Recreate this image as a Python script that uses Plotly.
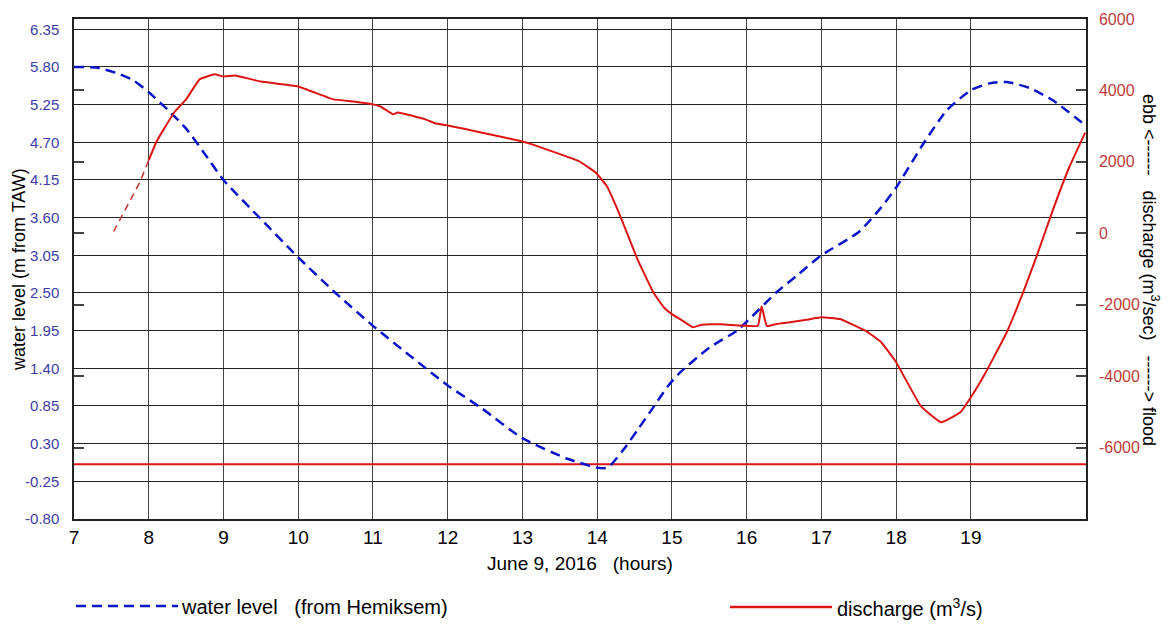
import plotly.graph_objects as go

# ---- data ----
wl_hours = [7.0, 7.3, 7.6, 7.8, 8.0, 8.25, 8.5, 8.75, 9.0, 9.5, 10.0, 10.5, 11.0, 11.5, 12.0,
            12.45, 13.0, 13.6, 14.0, 14.14, 14.35, 14.54, 14.75, 14.94, 15.1, 15.5, 15.87, 16.0,
            16.39, 16.7, 17.0, 17.5, 17.8, 18.0, 18.37, 18.68, 19.0, 19.25, 19.48, 19.79, 20.1, 20.53]
wl_values = [5.80, 5.79, 5.70, 5.60, 5.43, 5.18, 4.90, 4.53, 4.15, 3.58, 3.02, 2.50, 2.02, 1.58, 1.15,
             0.82, 0.38, 0.08, -0.05, -0.05, 0.21, 0.50, 0.83, 1.13, 1.33, 1.70, 1.95, 2.08,
             2.50, 2.78, 3.05, 3.39, 3.75, 4.04, 4.69, 5.17, 5.46, 5.56, 5.58, 5.49, 5.31, 4.95]

q_start_hours = [7.53, 7.88, 8.0]
q_start_values = [50, 1425, 2050]

q_hours = [8.0, 8.1, 8.2, 8.35, 8.5, 8.68, 8.88, 9.0, 9.15, 9.5, 10.0, 10.47, 10.74, 11.0, 11.1,
           11.27, 11.33, 11.7, 11.83, 12.0, 12.43, 13.0, 13.13, 13.32, 13.76, 13.98, 14.13, 14.31,
           14.54, 14.75, 14.89, 15.0, 15.11, 15.28, 15.4, 15.65, 15.9, 16.15, 16.2, 16.27, 16.4,
           16.58, 16.8, 17.0, 17.25, 17.6, 17.8, 18.0, 18.33, 18.6, 18.86, 19.0, 19.2, 19.48, 19.7,
           19.88, 20.1, 20.32, 20.53]
q_values = [2050, 2550, 2910, 3410, 3750, 4310, 4450, 4390, 4420, 4250, 4110, 3750, 3690, 3610, 3550,
            3330, 3385, 3190, 3080, 3020, 2830, 2570, 2490, 2350, 2015, 1700, 1315, 475,
            -730, -1650, -2070, -2265, -2405, -2630, -2560, -2545, -2580, -2590, -2040, -2600, -2540,
            -2490, -2420, -2350, -2400, -2740, -3050, -3610, -4840, -5290, -5010, -4590, -3890, -2770, -1650,
            -640, 670, 1870, 2820]

ref_level = 0.0  # red reference line (water level 0 m TAW)

x_ticks = [7, 8, 9, 10, 11, 12, 13, 14, 15, 16, 17, 18, 19]
y_ticks = [-0.80, -0.25, 0.30, 0.85, 1.40, 1.95, 2.50, 3.05, 3.60, 4.15, 4.70, 5.25, 5.80, 6.35]
y2_ticks = [-6000, -4000, -2000, 0, 2000, 4000, 6000]

x_range = [7.0, 20.54]

FONT = "Liberation Sans, Arial, sans-serif"
BLUE = "#0a14c8"
RED = "#dc1414"

fig = go.Figure()

fig.add_trace(go.Scatter(x=x_range, y=[ref_level, ref_level], mode="lines",
                         line=dict(color=RED, width=2), showlegend=False, hoverinfo="skip"))
fig.add_trace(go.Scatter(x=wl_hours, y=wl_values, mode="lines", name="water level",
                         line=dict(color=BLUE, width=2.5, dash="10px,6px", shape="spline", smoothing=0.6),
                         showlegend=False))
fig.add_trace(go.Scatter(x=q_start_hours, y=q_start_values, mode="lines", yaxis="y2",
                         line=dict(color="#c83232", width=1.5, dash="7px,5px"), showlegend=False))
fig.add_trace(go.Scatter(x=q_hours, y=q_values, mode="lines", name="discharge", yaxis="y2",
                         line=dict(color=RED, width=2, shape="spline", smoothing=0.3), showlegend=False))

L, R, T, B = 74, 84, 19, 105
W, H = 1170, 624
pw, ph = W - L - R, H - T - B


def px(xp):
    return (xp - L) / pw


def py(yp):
    return (H - B - yp) / ph


fig.update_layout(
    width=W, height=H,
    margin=dict(l=L, r=R, t=T, b=B),
    paper_bgcolor="white", plot_bgcolor="white",
    font=dict(family=FONT, color="black"),
    showlegend=False,
    xaxis=dict(range=x_range, tickvals=x_ticks, ticktext=[str(v) for v in x_ticks],
               showgrid=True, gridcolor="#444", gridwidth=1, zeroline=False,
               showline=True, linecolor="#222", linewidth=1.5, mirror=True,
               ticks="", tickfont=dict(size=19, color="black"),
               title=dict(text="June 9, 2016   (hours)", font=dict(size=19), standoff=10)),
    yaxis=dict(range=[-0.80, 6.50], tickvals=y_ticks, ticktext=[f"{v:.2f}" for v in y_ticks],
               showgrid=True, gridcolor="#222", gridwidth=1, zeroline=False,
               showline=True, linecolor="#222", linewidth=1.5,
               ticks="", tickfont=dict(size=15, color="#3c3ca8"), ticklabelstandoff=10),
    yaxis2=dict(range=[-8000, 6000], tickvals=y2_ticks, ticktext=[str(v) for v in y2_ticks],
                overlaying="y", side="right", showgrid=False, zeroline=False,
                showline=True, linecolor="#222", linewidth=1.5, mirror="ticks",
                ticks="inside", ticklen=10, tickcolor="#444", tickwidth=1.5,
                tickfont=dict(size=16, color="#c03c3c"), ticklabelstandoff=8),
)

annotations = [
    dict(text="water level (m from TAW)", x=px(19), y=py(270), xref="paper", yref="paper",
         xanchor="center", yanchor="middle",
         textangle=-90, showarrow=False, font=dict(size=18, color="black")),
    dict(text="ebb <------   discharge (m<sup>3</sup>/sec)   ------> flood", x=px(1151), y=py(270),
         xref="paper", yref="paper", xanchor="center", yanchor="middle",
         textangle=90, showarrow=False, font=dict(size=18, color="black")),
    dict(text="water level   (from Hemiksem)", x=px(179), y=py(607), xref="paper", yref="paper",
         xanchor="left", yanchor="middle", showarrow=False, font=dict(size=20, color="black")),
    dict(text="discharge (m<sup>3</sup>/s)", x=px(835), y=py(607), xref="paper", yref="paper",
         xanchor="left", yanchor="middle", showarrow=False, font=dict(size=20, color="black")),
]
fig.update_layout(annotations=annotations)

fig.add_shape(type="line", xref="paper", yref="paper", x0=px(76), x1=px(178), y0=py(606), y1=py(606),
              line=dict(color=BLUE, width=2.5, dash="10px,6px"))
fig.add_shape(type="line", xref="paper", yref="paper", x0=px(730), x1=px(832), y0=py(607), y1=py(607),
              line=dict(color=RED, width=2.5))

fig.write_html("out.html")
